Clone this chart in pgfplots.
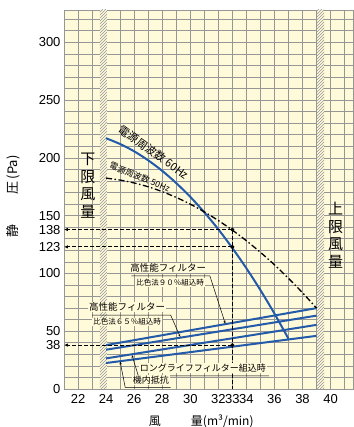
\documentclass[border=0pt]{standalone}
\usepackage{pgfplots}
\pgfplotsset{compat=1.18}
\usepackage{fontspec}
\setmainfont{Liberation Sans}
\newfontfamily\jp{Noto Sans CJK JP}
\usetikzlibrary{patterns,arrows.meta}
\definecolor{cream}{RGB}{255,250,218}
\definecolor{gridgray}{RGB}{150,150,150}
\definecolor{fanblue}{RGB}{35,90,170}
\begin{document}
\begin{tikzpicture}
\begin{axis}[
    scale only axis,
    width=289pt, height=379pt,
    xmin=21, xmax=41.6, ymin=0, ymax=328,
    axis background/.style={fill=cream},
    xtick={22,24,26,28,30,32,33,34,36,38,40},
    ytick={0,38,50,100,123,138,150,200,250,300},
    minor xtick={21,22,...,41},
    minor ytick={0,10,...,320},
    grid=minor,
    minor grid style={gridgray, line width=0.6pt},
    major tick length=0pt, minor tick length=0pt,
    axis line style={gridgray, line width=0.8pt},
    tick label style={font=\fontsize{13}{13}\selectfont},
    xticklabel style={yshift=-2pt},
    /pgf/number format/assume math mode=true,
    xlabel={\jp 風\hspace{2.5em}量(m³/min)},
    ylabel={\jp 静\hspace{2.3em}圧\,(Pa)},
    xlabel style={at={(rel axis cs:0.475,-0.0844)}, anchor=center, font=\fontsize{12}{12}\selectfont},
    ylabel style={at={(rel axis cs:-0.1765,0.508)}, anchor=center, font=\fontsize{13}{13}\selectfont},
    clip mode=individual,
]
% limit bands
\addplot[draw=none, fill=cream] coordinates {(23.55,0) (24.05,0) (24.05,328) (23.55,328)} -- cycle;
\addplot[draw=none, pattern=north east lines, pattern color=gridgray] coordinates {(23.55,0) (24.05,0) (24.05,328) (23.55,328)} -- cycle;
\addplot[draw=none, fill=cream] coordinates {(39.0,0) (39.55,0) (39.55,328) (39.0,328)} -- cycle;
\addplot[draw=none, pattern=north east lines, pattern color=gridgray] coordinates {(39.0,0) (39.55,0) (39.55,328) (39.0,328)} -- cycle;

% resistance lines
\addplot[fanblue, line width=2pt] coordinates {(24,38) (39,70)};
\addplot[fanblue, line width=2pt] coordinates {(24,34) (39,63.5)};
\addplot[fanblue, line width=2pt] coordinates {(24,26.5) (39,55.5)};
\addplot[fanblue, line width=2pt] coordinates {(24,22.5) (39,46)};

% 60Hz
\addplot[fanblue, line width=2pt, smooth] coordinates {
 (24,217) (25,212) (26,205.7) (27,197.9) (28,188.8) (29,178.2) (30,166.3)
 (31,152.9) (32,138.2) (33,122) (34,104.5) (35,85.6) (36,65.3) (37,43.5)};
% 50Hz
\addplot[black, line width=1.3pt, smooth, dash pattern=on 6pt off 2.5pt on 1.5pt off 2.5pt] coordinates {
 (24,182.5) (25,180.8) (26,178.3) (27,175) (28,170.8) (29,165.8) (30,160)
 (31,153.3) (32,145.8) (33,137.5) (34,128.3) (35,118.3) (36,107.5) (37,95.8)
 (38,83.3) (39,70)};

% operating point guides
\addplot[black, line width=1.1pt, dash pattern=on 4pt off 2pt, -{Latex[length=4pt,width=3.5pt]}] coordinates {(33,138) (21,138)};
\addplot[black, line width=1.1pt, dash pattern=on 4pt off 2pt, -{Latex[length=4pt,width=3.5pt]}] coordinates {(33,123) (21,123)};
\addplot[black, line width=1.1pt, dash pattern=on 4pt off 2pt, -{Latex[length=4pt,width=3.5pt]}] coordinates {(33,38) (21,38)};
\addplot[black, line width=1.1pt, dash pattern=on 4pt off 2pt] coordinates {(33,138) (33,0)};
\addplot[black, only marks, mark=*, mark size=1.8pt] coordinates {(33,138) (33,123) (33,38)};

% curve labels
\node[font=\jp\fontsize{11}{11}\selectfont, rotate=-36, inner sep=0pt] at (axis cs:27.4,205) {電源周波数 60Hz};
\node[font=\jp\fontsize{8.5}{8.5}\selectfont, rotate=-22, inner sep=0pt] at (axis cs:26.4,183.5) {電源周波数 50Hz};

% limit labels
\node[font=\jp\fontsize{15}{17.5}\selectfont, align=center, inner sep=0pt] at (axis cs:22.71,176) {下\\限\\風\\量};
\node[font=\jp\fontsize{15}{17.5}\selectfont, align=center, inner sep=0pt] at (axis cs:40.36,133) {上\\限\\風\\量};

% filter labels
\node[font=\jp\fontsize{9.5}{9.5}\selectfont, fill=cream, inner sep=1pt] at (axis cs:28.43,104.8) {高性能フィルター};
\node[font=\jp\fontsize{7.5}{7.5}\selectfont, fill=cream, inner sep=1pt] at (axis cs:28.57,91.8) {比色法９０％組込時};
\draw[black, line width=0.5pt, -{Stealth[length=3pt]}] (axis cs:25.8,97.8) -- (axis cs:31.4,97.8) -- (axis cs:32.5,56.5);

\node[font=\jp\fontsize{9.5}{9.5}\selectfont, fill=cream, inner sep=1pt] at (axis cs:25.5,71) {高性能フィルター};
\node[font=\jp\fontsize{7.5}{7.5}\selectfont, fill=cream, inner sep=1pt] at (axis cs:25.5,58) {比色法６５％組込時};
\draw[black, line width=0.5pt, -{Stealth[length=3pt]}] (axis cs:23.0,64) -- (axis cs:28.6,64) -- (axis cs:29.29,45);

\node[font=\jp\fontsize{9}{9}\selectfont, fill=cream, inner sep=1pt] at (axis cs:30.9,18.2) {ロングライフフィルター組込時};
\draw[black, line width=0.5pt, -{Stealth[length=3pt]}] (axis cs:35.6,11.3) -- (axis cs:26.3,11.3) -- (axis cs:25.84,29.5);

\node[font=\jp\fontsize{9}{9}\selectfont, fill=cream, inner sep=1pt] at (axis cs:27.2,8) {機内抵抗};
\draw[black, line width=0.5pt, -{Stealth[length=3pt]}] (axis cs:28.6,1.5) -- (axis cs:25.36,1.5) -- (axis cs:25,23.8);
\end{axis}
\pgfresetboundingbox
\useasboundingbox ([shift={(-64pt,-38pt)}]current axis.south west) rectangle ([shift={(0pt,10pt)}]current axis.north east);
\end{tikzpicture}
\end{document}
